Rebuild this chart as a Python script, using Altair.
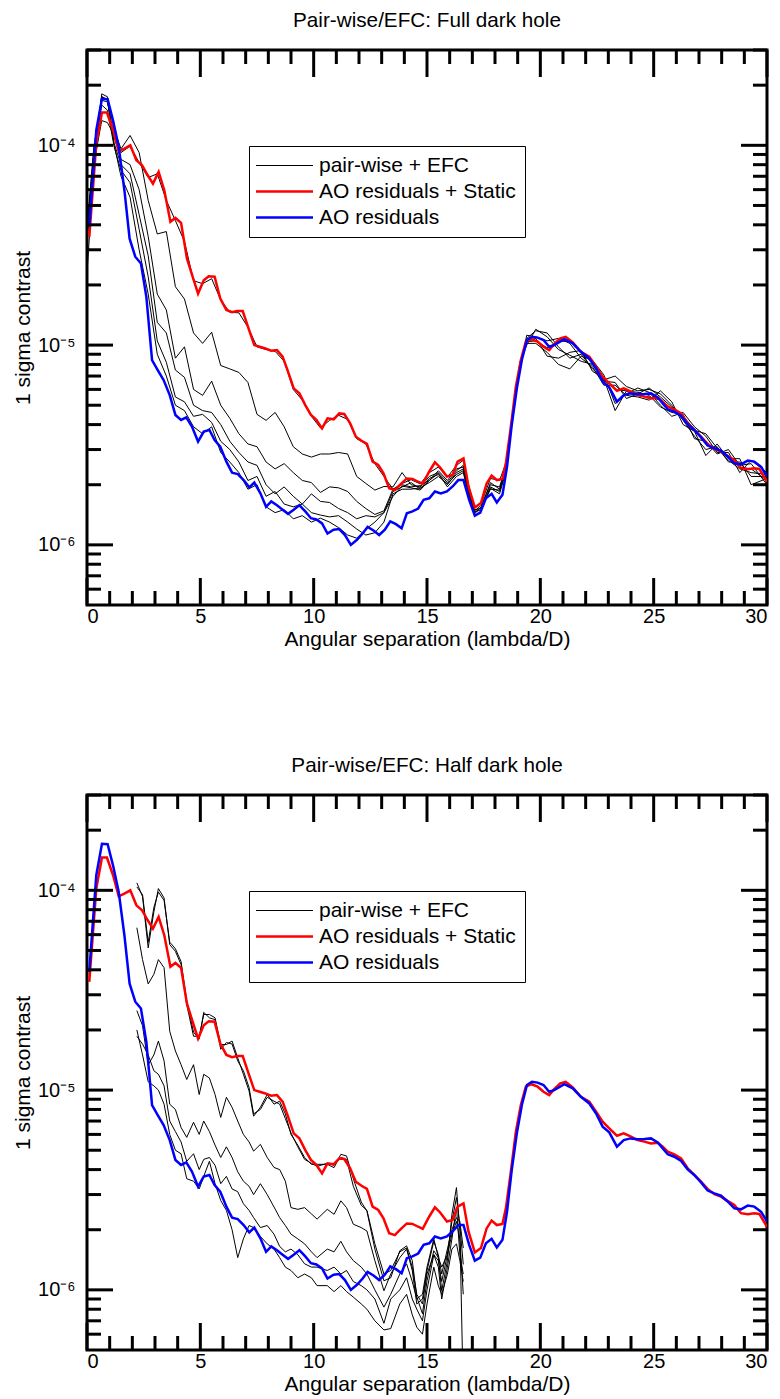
import altair as alt
import pandas as pd

# ---------------- data (contrast values in units of 1e-6) ----------------
X_STATIC = [0.10, 0.41, 0.66, 0.88, 1.15, 1.40, 1.65, 1.91, 2.18, 2.43,
            2.68, 2.91, 3.16, 3.41, 3.68, 3.90, 4.15, 4.41, 4.66, 4.90,
            5.15, 5.37, 5.63, 5.88, 6.15, 6.40, 6.62, 6.87, 7.13, 7.38,
            7.62, 7.87, 8.12, 8.38, 8.63, 8.87, 9.12, 9.37, 9.63, 9.88,
            10.12, 10.37, 10.61, 10.88, 11.13, 11.35, 11.61, 11.86, 12.11, 12.35,
            12.60, 12.85, 13.08, 13.33, 13.58, 13.85, 14.11, 14.36, 14.61, 14.81,
            15.10, 15.35, 15.58, 15.88, 16.13, 16.35, 16.61, 16.83, 17.11, 17.38,
            17.63, 17.85, 18.08, 18.33, 18.48, 18.70, 18.92, 19.14, 19.36, 19.61,
            19.88, 20.14, 20.39, 20.61, 20.88, 21.12, 21.43, 21.79, 22.16, 22.46,
            22.75, 23.04, 23.38, 23.68, 24.00, 24.29, 24.59, 24.88, 25.18, 25.40,
            25.62, 25.91, 26.21, 26.50, 26.79, 27.09, 27.38, 27.68, 27.97, 28.26,
            28.56, 28.85, 29.15, 29.44, 29.66, 30.00]
V_STATIC = [34.8, 102, 146, 146, 119, 93.3, 96.2, 100, 84.1, 79.4,
            70.8, 64.3, 73.6, 59.6, 41.4, 43.3, 40.9, 27.1, 22.0, 18.1,
            21.1, 22.1, 22.0, 17.1, 15.0, 14.6, 14.8, 14.8, 12.1, 10.0,
            9.81, 9.62, 9.37, 9.44, 8.75, 7.36, 6.07, 5.73, 5.01, 4.47,
            4.22, 3.83, 4.30, 4.25, 4.55, 4.52, 4.06, 3.48, 3.32, 3.20,
            2.61, 2.51, 2.28, 1.92, 1.88, 2.02, 2.15, 2.14, 2.07, 2.02,
            2.33, 2.59, 2.44, 2.20, 2.24, 2.61, 2.71, 1.96, 1.54, 1.62,
            2.03, 2.22, 2.11, 2.14, 2.56, 3.91, 6.19, 8.41, 10.4, 10.7,
            10.4, 9.81, 9.44, 10.1, 10.8, 11.0, 10.3, 9.26, 8.75, 7.80,
            6.95, 6.43, 5.91, 6.07, 5.85, 5.62, 5.52, 5.41, 5.45, 5.21,
            4.92, 4.77, 4.55, 4.06, 3.76, 3.48, 3.20, 3.01, 2.93, 2.79,
            2.66, 2.42, 2.39, 2.42, 2.40, 2.07]

X_AO = [0.10, 0.41, 0.66, 0.91, 1.15, 1.40, 1.65, 1.88, 2.13, 2.38,
        2.62, 2.87, 3.12, 3.38, 3.65, 3.90, 4.15, 4.38, 4.63, 4.90,
        5.15, 5.40, 5.63, 5.88, 6.15, 6.40, 6.65, 6.91, 7.16, 7.38,
        7.65, 7.90, 8.13, 8.38, 8.63, 8.87, 9.12, 9.37, 9.63, 9.88,
        10.12, 10.37, 10.61, 10.88, 11.13, 11.38, 11.64, 11.91, 12.16, 12.38,
        12.64, 12.89, 13.14, 13.38, 13.63, 13.88, 14.11, 14.36, 14.61, 14.85,
        15.10, 15.35, 15.61, 15.88, 16.13, 16.38, 16.61, 16.86, 17.11, 17.35,
        17.60, 17.85, 18.08, 18.33, 18.53, 18.73, 18.97, 19.19, 19.41, 19.63,
        19.88, 20.14, 20.39, 20.61, 21.06, 21.43, 21.79, 22.16, 22.46, 22.75,
        23.04, 23.38, 23.68, 23.97, 24.29, 24.59, 24.88, 25.18, 25.40, 25.62,
        25.91, 26.21, 26.50, 26.79, 27.09, 27.38, 27.68, 27.97, 28.26, 28.56,
        28.85, 29.15, 29.44, 29.74, 30.00]
V_AO = [39.1, 119, 171, 170, 133, 98.1, 59.6, 34.1, 27.7, 25.6,
        17.4, 8.41, 7.50, 6.68, 5.62, 4.47, 4.22, 4.35, 3.91, 3.29,
        3.69, 3.76, 3.35, 3.10, 2.61, 2.30, 2.26, 2.11, 1.94, 2.05,
        1.81, 1.55, 1.65, 1.58, 1.50, 1.43, 1.50, 1.58, 1.47, 1.36,
        1.34, 1.28, 1.14, 1.19, 1.20, 1.12, 1.00, 1.06, 1.14, 1.23,
        1.18, 1.12, 1.19, 1.31, 1.27, 1.21, 1.44, 1.47, 1.52, 1.68,
        1.71, 1.85, 1.81, 1.85, 1.96, 2.11, 2.11, 1.68, 1.40, 1.45,
        1.71, 1.80, 1.63, 1.78, 2.46, 3.91, 6.14, 8.48, 10.6, 11.0,
        10.9, 10.6, 9.81, 10.0, 10.7, 10.2, 9.26, 8.57, 7.64, 6.56,
        6.14, 5.21, 5.62, 5.73, 5.67, 5.69, 5.73, 5.47, 5.11, 4.77,
        4.64, 4.42, 4.01, 3.76, 3.45, 3.14, 3.04, 2.96, 2.77, 2.56,
        2.53, 2.64, 2.61, 2.46, 2.20]

# pair-wise + EFC runs, full dark hole (top panel)
GX_TOP = [0.0, 0.3, 0.65, 0.9, 1.2, 1.5,
          1.9, 2.3, 2.7, 3.1, 3.5, 3.9, 4.3, 4.7, 5.1, 5.5,
          5.9, 6.3, 6.7, 7.1, 7.5, 7.9, 8.3, 8.7, 9.1, 9.5,
          9.9, 10.3, 10.7, 11.1, 11.5, 11.9, 12.3, 12.7, 13.1, 13.5,
          13.9, 14.3, 14.7, 15.1, 15.5, 15.9, 16.3, 16.6, 16.9, 17.1,
          17.4, 17.8, 18.2, 18.5, 18.8, 19.1, 19.4, 19.8, 20.3, 20.8,
          21.3, 21.8, 22.3, 22.8, 23.3, 23.8, 24.3, 24.8, 25.3, 25.8,
          26.3, 26.8, 27.3, 27.8, 28.3, 28.8, 29.3, 30.0]
TOP_1 = [33, 80, 133, 130, 112, 92,
         99, 82, 69, 72, 53, 42, 33, 21, 20.3, 21.5,
         16.8, 14.6, 14.5, 12.3, 9.8, 9.5, 9.3, 8.3, 6.0, 5.3,
         4.4, 3.85, 4.2, 4.45, 4.25, 3.4, 3.2, 2.55, 2.2, 1.9,
         2.03, 2.12, 2.02, 2.3, 2.45, 2.18, 2.5, 2.65, 1.85, 1.53,
         1.62, 2.15, 2.1, 2.6, 4.8, 8.0, 10.4, 10.5, 9.7, 10.4,
         10.5, 9.1, 8.2, 6.9, 6.0, 5.9, 5.6, 5.5, 5.3, 4.8,
         4.4, 3.8, 3.25, 3.0, 2.75, 2.45, 2.4, 2.1]
TOP_2 = [23, 75, 181, 175, 120, 96,
         112, 92, 53, 36, 37, 19.6, 17, 11.5, 10.2, 11.6,
         7.9, 7.6, 7.3, 6.5, 4.5, 4.2, 4.6, 3.9, 3.1, 2.85,
         2.75, 2.85, 2.85, 2.9, 2.85, 2.2, 2.03, 1.88, 1.96, 1.95,
         2.3, 2.0, 1.95, 2.2, 2.3, 2.05, 2.35, 2.5, 1.75, 1.48,
         1.58, 2.0, 1.95, 2.5, 4.6, 7.8, 10.8, 11.8, 11.5, 9.8,
         8.6, 9.0, 7.6, 6.7, 7.0, 6.2, 5.9, 6.0, 5.7, 5.0,
         4.2, 3.5, 3.0, 3.1, 2.6, 2.6, 2.2, 2.2]
TOP_3 = [36, 90, 168, 165, 110, 85,
         80, 60, 35, 18, 15, 8.6, 9.8, 6.0, 5.6, 6.6,
         5.0, 4.3, 3.6, 3.2, 3.1, 2.6, 2.4, 2.55, 2.3, 2.1,
         2.05, 1.83, 1.95, 1.93, 1.85, 1.65, 1.52, 1.42, 1.48, 1.9,
         2.0, 1.95, 1.98, 2.1, 2.35, 2.1, 2.4, 2.45, 1.8, 1.45,
         1.55, 2.05, 1.9, 2.45, 4.7, 8.2, 10.2, 10.2, 9.2, 8.0,
         7.6, 8.8, 8.4, 7.1, 5.1, 5.7, 6.1, 5.8, 5.0, 4.4,
         4.6, 3.9, 3.5, 2.9, 2.9, 2.3, 2.65, 2.3]
TOP_4 = [38, 98, 174, 170, 102, 80,
         72, 45, 28, 13, 11.5, 7.5, 6.9, 5.0, 4.7, 4.6,
         4.0, 3.3, 2.9, 2.6, 2.5, 2.0, 1.8, 1.95, 1.75, 1.6,
         1.8, 1.65, 1.63, 1.52, 1.45, 1.35, 1.4, 1.38, 1.45, 1.85,
         1.95, 2.05, 1.9, 2.15, 2.25, 2.0, 2.3, 2.4, 1.72, 1.5,
         1.52, 1.95, 1.85, 2.4, 4.5, 7.6, 11.2, 11.0, 10.5, 10.8,
         10.2, 8.6, 7.8, 6.3, 6.3, 5.6, 5.5, 5.3, 5.9, 5.2,
         4.0, 3.7, 2.8, 3.2, 2.7, 2.7, 2.0, 2.15]
TOP_5 = [35, 85, 159, 150, 98, 75,
         65, 38, 22, 10.5, 8.2, 5.5, 5.2, 4.4, 4.5, 4.1,
         3.3, 3.0, 2.6, 2.1, 2.2, 1.75, 1.85, 1.6, 1.55, 1.6,
         1.45, 1.41, 1.38, 1.4, 1.3, 1.2, 1.12, 1.15, 1.3, 1.8,
         1.9, 1.9, 1.93, 2.05, 2.2, 2.02, 2.25, 2.35, 1.7, 1.43,
         1.55, 1.9, 1.88, 2.42, 4.55, 7.9, 10.5, 10.8, 8.8, 8.6,
         9.2, 9.4, 7.4, 6.8, 4.7, 5.9, 5.8, 5.6, 4.9, 4.6,
         4.5, 3.4, 3.3, 2.85, 3.0, 2.5, 2.55, 2.0]
TOP_6 = [37, 95, 176, 168, 100, 70,
         55, 30, 18, 9.0, 7.0, 5.0, 4.7, 3.9, 3.6, 3.9,
         2.9, 2.6, 2.3, 1.9, 2.0, 1.55, 1.45, 1.5, 1.35, 1.4,
         1.3, 1.36, 1.3, 1.22, 1.12, 1.08, 1.2, 1.3, 1.45, 1.75,
         1.97, 1.93, 1.88, 2.1, 2.28, 1.95, 2.2, 2.3, 1.68, 1.46,
         1.5, 1.92, 1.8, 2.35, 4.6, 8.1, 10.0, 12.0, 11.0, 9.5,
         8.9, 8.3, 8.0, 6.6, 6.5, 5.4, 5.7, 6.1, 5.5, 4.9,
         4.3, 3.75, 3.6, 3.05, 2.65, 2.4, 2.3, 2.25]

# pair-wise + EFC runs, half dark hole (bottom panel)
GX_BOT = [2.2, 2.45, 2.7, 2.95, 3.15, 3.4, 3.65, 3.9, 4.15, 4.4,
          4.7, 4.95, 5.15, 5.4, 5.65, 5.9, 6.15, 6.4, 6.65, 6.9,
          7.15, 7.35, 7.65, 7.95, 8.25, 8.5, 8.75, 9.0, 9.3, 9.6,
          9.9, 10.15, 10.6, 10.9, 11.2, 11.45, 11.75, 12.1, 12.35, 12.7,
          13.1, 13.4, 13.8, 14.1, 14.35, 14.55, 14.8, 15.0, 15.3, 15.5,
          15.65, 15.9, 16.1, 16.3, 16.45, 16.6]
BOT_1 = [109, 93, 51.5, 78, 102, 91.6, 53.5, 49.5, 42.5, 26.8,
         18.6, 18.6, 23.9, 23.9, 23.0, 16.9, 16.9, 17.6, 14.5, 12.0,
         9.9, 7.4, 8.2, 9.5, 8.5, 8.8, 7.6, 6.0, 5.3, 4.6,
         4.25, 4.25, 4.25, 4.09, 4.77, 4.68, 3.6, 2.75, 2.48, 1.6,
         1.11, 1.15, 1.57, 1.66, 1.40, 0.92, 0.76, 1.11, 1.57, 1.45,
         0.99, 1.40, 2.39, 3.25, 1.97, 0.3]
BOT_2 = [104, 95, 55, 82, 98, 89, 55, 51, 44, 28,
         19.5, 18.0, 24.5, 23.0, 22.5, 16.0, 17.3, 17.0, 14.0, 12.5,
         10.3, 7.6, 8.0, 9.2, 8.8, 8.5, 7.2, 6.1, 5.2, 4.5,
         4.3, 4.15, 4.3, 4.2, 4.6, 4.5, 3.3, 2.65, 2.5, 1.7,
         1.2, 1.25, 1.55, 1.62, 1.3, 0.95, 0.85, 1.2, 1.5, 1.4,
         1.1, 1.5, 2.2, 2.9, 2.1, 1.34]
BOT_3 = [65, 45, 34, 38, 45, 41, 19.7, 15.7, 13.4, 11.3,
         13.4, 9.5, 12.0, 11.5, 9.5, 7.3, 9.2, 8.2, 7.0, 6.0,
         5.5, 4.95, 5.35, 4.6, 4.1, 4.0, 3.5, 2.58, 2.53, 2.58,
         2.4, 2.26, 2.53, 2.39, 2.79, 2.58, 2.13, 2.05, 1.97, 1.40,
         0.99, 1.2, 1.45, 1.6, 1.25, 0.85, 0.9, 1.25, 1.75, 1.5,
         1.2, 1.6, 2.0, 2.3, 2.2, 1.62]
BOT_4 = [25, 21, 13.4, 15, 17.6, 14.0, 8.5, 8.0, 6.5, 5.8,
         6.9, 6.0, 7.0, 6.2, 5.3, 4.6, 5.2, 4.6, 3.9, 3.5,
         3.3, 3.0, 3.4, 3.0, 2.6, 2.3, 2.1, 1.9, 1.8, 1.7,
         1.55, 1.45, 1.6, 1.55, 1.75, 1.55, 1.4, 1.3, 1.2, 1.0,
         0.82, 0.95, 1.2, 1.35, 1.1, 0.9, 0.95, 1.3, 1.8, 1.45,
         1.3, 1.5, 1.9, 2.2, 1.8, 0.95]
BOT_5 = [18.6, 17, 15, 12.5, 12, 10.5, 7.0, 6.2, 5.5, 4.4,
         4.8, 4.0, 4.5, 4.6, 4.2, 3.4, 3.7, 3.2, 3.1, 2.7,
         2.5, 2.3, 2.05, 2.1, 1.9, 1.65, 1.55, 1.6, 1.5, 1.35,
         1.3, 1.3, 1.25, 1.3, 1.2, 1.25, 1.1, 1.05, 1.0, 0.9,
         0.68, 0.9, 1.0, 1.15, 0.9, 0.8, 0.7, 1.0, 1.5, 1.3,
         0.9, 1.3, 1.8, 2.6, 1.5, 1.2]
BOT_6 = [20, 15, 11, 10.5, 10, 8.5, 6.0, 5.0, 4.8, 3.6,
         3.5, 3.2, 3.7, 4.4, 3.4, 2.8, 2.5, 2.0, 1.45, 1.8,
         2.1, 2.05, 1.85, 1.7, 1.6, 1.45, 1.3, 1.25, 1.15, 1.2,
         1.15, 1.05, 1.05, 0.98, 1.05, 0.98, 0.92, 0.85, 0.80, 0.70,
         0.63, 0.64, 0.85, 0.95, 0.75, 0.65, 0.6, 0.85, 1.3, 1.05,
         0.95, 1.2, 1.6, 1.7, 1.4, 1.1]

UNIT = 1e-6
KINDS = ["pair-wise + EFC", "AO residuals + Static", "AO residuals"]
COLORS = ["#000000", "#ff0000", "#0000ff"]
TITLES = ["Pair-wise/EFC: Full dark hole", "Pair-wise/EFC: Half dark hole"]

X_MAJOR = [0, 5, 10, 15, 20, 25, 30]
X_MINOR = [1, 2, 3, 4, 6, 7, 8, 9, 11, 12, 13, 14, 16, 17, 18, 19,
           21, 22, 23, 24, 26, 27, 28, 29]
Y_MAJOR = [1e-6, 1e-5, 1e-4]
Y_MINOR = [6e-7, 7e-7, 8e-7, 9e-7,
           2e-6, 3e-6, 4e-6, 5e-6, 6e-6, 7e-6, 8e-6, 9e-6,
           2e-5, 3e-5, 4e-5, 5e-5, 6e-5, 7e-5, 8e-5, 9e-5,
           2e-4, 3e-4]

W, H = 680, 555
FONT = "Liberation Sans"

xscale = alt.Scale(domain=[0, 30], nice=False, zero=False)
yscale = alt.Scale(type="log", domain=[5e-7, 3e-4], nice=False)


def runs_frame(gx, runs):
    rows = []
    for i, r in enumerate(runs):
        for xv, v in zip(gx, r):
            rows.append({"x": xv, "c": v * UNIT, "kind": KINDS[0], "run": f"r{i}"})
    return pd.DataFrame(rows)


def curve_frame(xs, vs, kind):
    return pd.DataFrame({"x": xs, "c": [v * UNIT for v in vs], "kind": kind})


legend = alt.Legend(
    title=None, orient="none", legendX=162, legendY=96, direction="vertical",
    fillColor="white", strokeColor="black", padding=9,
    labelFontSize=21, labelFont=FONT, labelColor="black", labelLimit=400,
    symbolType="stroke", symbolSize=3249, symbolOffset=16, labelOffset=24, rowPadding=4,
    symbolStrokeWidth=alt.ExprRef("datum.value === 'pair-wise + EFC' ? 1 : 2.5"),
)
color = alt.Color("kind:N", scale=alt.Scale(domain=KINDS, range=COLORS), legend=legend)

XTITLE = "Angular separation (lambda/D)"
YTITLE = "1 sigma contrast"
xaxis = alt.Axis(values=X_MAJOR, format="d", title=XTITLE, labelPadding=1, titlePadding=2,
                 labelFlush=4)
yaxis = alt.Axis(values=Y_MAJOR, title=YTITLE, labelPadding=12, titlePadding=4,
                 labelFlush=False,
                 labelExpr="datum.value > 5e-5 ? '10⁻⁴' : (datum.value > 5e-6 ? '10⁻⁵' : '10⁻⁶')")


def X(field):
    return alt.X(field, scale=xscale, axis=xaxis, title=XTITLE)


def Y(field):
    return alt.Y(field, scale=yscale, axis=yaxis, title=YTITLE)


def tick_layers():
    layers = []
    for vals, ln in [(X_MAJOR, 27), (X_MINOR, 14)]:
        base = alt.Chart(pd.DataFrame({"t": vals})).mark_rule(color="black", strokeWidth=3)
        layers.append(base.encode(x=X("t:Q"), y=alt.value(H), y2=alt.value(H - ln)))
        layers.append(base.encode(x=X("t:Q"), y=alt.value(0), y2=alt.value(ln)))
    for vals, ln in [(Y_MAJOR, 26), (Y_MINOR, 14)]:
        base = alt.Chart(pd.DataFrame({"t": vals})).mark_rule(color="black", strokeWidth=3)
        layers.append(base.encode(y=Y("t:Q"), x=alt.value(0), x2=alt.value(ln)))
        layers.append(base.encode(y=Y("t:Q"), x=alt.value(W), x2=alt.value(W - ln)))
    return layers


def panel(title, gx, runs):
    black = alt.Chart(runs_frame(gx, runs)).mark_line(strokeWidth=1, clip=True).encode(
        x=X("x:Q"), y=Y("c:Q"), color=color, detail="run:N")
    red = alt.Chart(curve_frame(X_STATIC, V_STATIC, KINDS[1])).mark_line(
        strokeWidth=2.5, clip=True).encode(x=X("x:Q"), y=Y("c:Q"), color=color)
    blue = alt.Chart(curve_frame(X_AO, V_AO, KINDS[2])).mark_line(
        strokeWidth=2.5, clip=True).encode(x=X("x:Q"), y=Y("c:Q"), color=color)
    return alt.layer(black, red, blue, *tick_layers()).properties(
        width=W, height=H,
        title=alt.TitleParams(title, fontSize=20.7, fontWeight="normal", font=FONT,
                              color="black", anchor="middle", offset=17))


top = panel(TITLES[0], GX_TOP, [TOP_1, TOP_2, TOP_3, TOP_4, TOP_5, TOP_6])
bottom = panel(TITLES[1], GX_BOT, [BOT_1, BOT_2, BOT_3, BOT_4, BOT_5, BOT_6])

chart = alt.vconcat(top, bottom, spacing=102).resolve_scale(
    color="independent").resolve_legend(color="independent").configure(
    font=FONT, padding={"left": 2, "top": 0, "right": 0, "bottom": 0}
).configure_view(stroke="black", strokeWidth=3).configure_axis(
    grid=False, ticks=False, domain=False, tickSize=0,
    labelFont=FONT, titleFont=FONT, labelFontSize=20, titleFontSize=21,
    titleFontWeight="normal", labelColor="black", titleColor="black")

chart.save("out.html", embed_options={"renderer": "svg", "actions": False})
